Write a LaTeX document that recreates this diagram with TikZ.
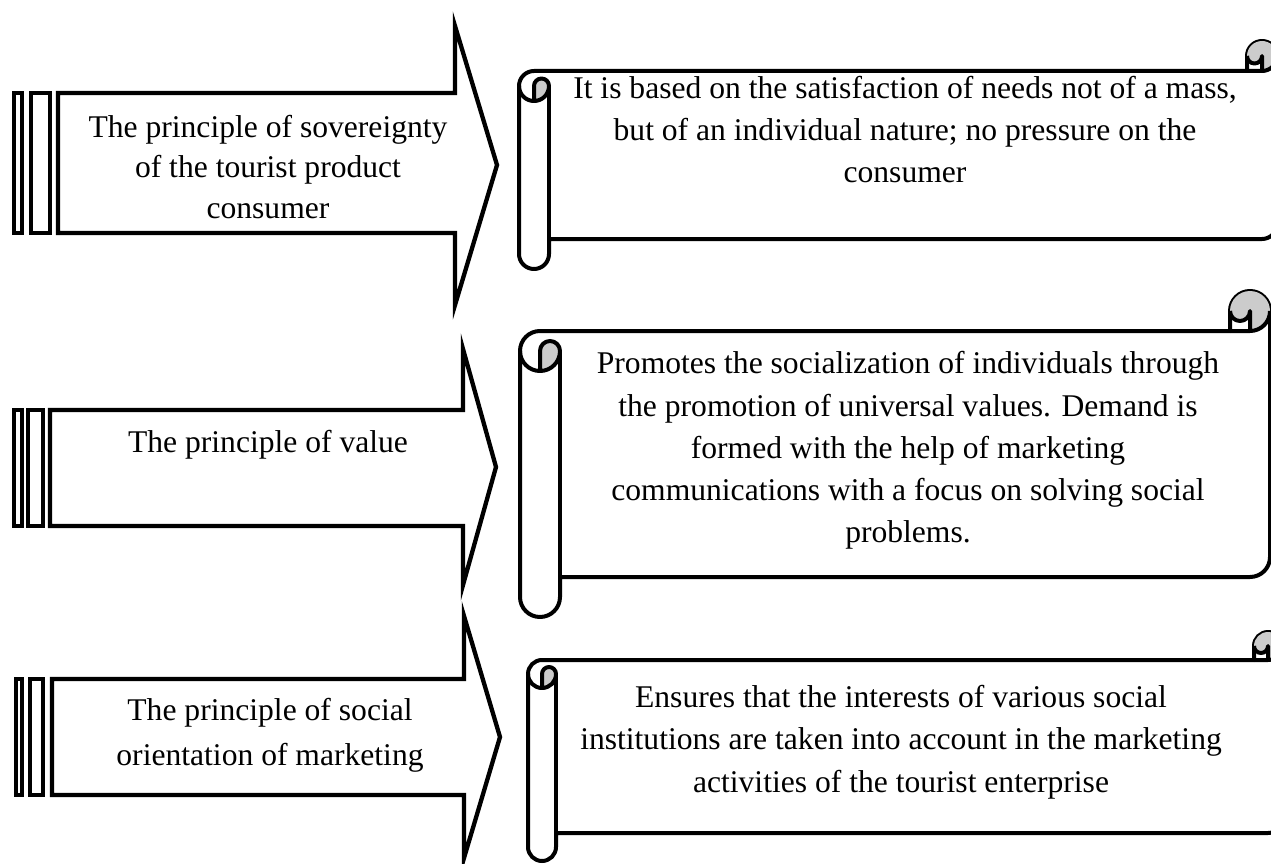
\documentclass[tikz,border=0pt]{standalone}
\usepackage{fontspec}
\setmainfont{Liberation Serif}

% Scroll banner: left edge, top, right edge, bottom, roll size
\newcommand\drawscroll[5]{%
  \pgfmathsetmacro\sL{#1}\pgfmathsetmacro\sR{#3}%
  \pgfmathsetmacro\sH{#5/2}\pgfmathsetmacro\sQ{#5/4}%
  \pgfmathsetmacro\yTop{#2+#5}%
  \pgfmathsetmacro\yMid{#2+#5/2}%
  \pgfmathsetmacro\yRl{#2+1.5*#5}%
  \pgfmathsetmacro\yRb{#2+2*#5}%
  \pgfmathsetmacro\yBot{#4-#5}%
  \pgfmathsetmacro\yBr{#4-#5/2}%
  \pgfmathsetmacro\yCr{#4-1.5*#5}%
  \pgfmathsetmacro\xIn{#1+#5}%
  \pgfmathsetmacro\xLc{#1+#5/2}%
  \pgfmathsetmacro\xRi{#3-#5}%
  \pgfmathsetmacro\xRc{#3-#5/2}%
  % sheet with both rolls
  \draw[scrollline,fill=white] (\sL,\yRl) arc[start angle=180,end angle=270,radius=\sH]
     -- (\xRi,\yTop) -- (\xRi,\yMid) arc[start angle=180,end angle=360,radius=\sH]
     -- (\sR,\yCr) arc[start angle=0,end angle=90,radius=\sH]
     -- (\xIn,\yBot) -- (\xIn,\yBr) arc[start angle=0,end angle=180,radius=\sH] -- cycle;
  % shaded insides of the rolls
  \fill[curlshade] (\xLc,\yRb) arc[start angle=90,end angle=0,radius=\sH]
     arc[start angle=0,end angle=-180,radius=\sQ] -- cycle;
  \fill[curlshade] (\xRc,\yTop) arc[start angle=90,end angle=-180,radius=\sH]
     arc[start angle=180,end angle=0,radius=\sQ] -- cycle;
  % curl strokes
  \draw[scrollline] (\xRi,\yTop) -- (\xRc,\yTop) arc[start angle=90,end angle=0,radius=\sH];
  \draw[scrollline] (\xRc,\yTop) -- (\xRc,\yMid) arc[start angle=0,end angle=180,radius=\sQ];
  \draw[scrollline] (\xLc,\yRb) -- (\xLc,\yRl) arc[start angle=180,end angle=360,radius=\sQ]
     arc[start angle=0,end angle=180,radius=\sH];
  \draw[scrollline] (\xIn,\yRl) -- (\xIn,\yBot);
}
\newcommand\txtsize[1]{\fontsize{31.6}{#1}\selectfont}

\begin{document}
\begin{tikzpicture}[x=1pt,y=-1pt,
  scrollline/.style={draw=black,line width=4pt,line join=round},
  curlshade/.style={fill=black!20},
  arrowline/.style={draw=black,line width=4.3pt,fill=white,line join=miter},
  txt/.style={inner sep=0pt,align=center,text=black},
]
\useasboundingbox (0,0) rectangle (1271,864);
\clip (0,0) rectangle (1271,864);
\fill[white] (0,0) rectangle (1271,864);

% striped block arrows
\draw[arrowline] (14,93) rectangle (22,233);
\draw[arrowline] (31,93) rectangle (50,233);
\draw[arrowline] (58,93) -- (455,93) -- (455,26) -- (497,165) -- (455,305) -- (455,233) -- (58,233) -- cycle;

\draw[arrowline] (14,410) rectangle (22,526);
\draw[arrowline] (28,410) rectangle (43,526);
\draw[arrowline] (50,410) -- (463,410) -- (463,349) -- (496,467) -- (463,585) -- (463,526) -- (50,526) -- cycle;

\draw[arrowline] (16,679) rectangle (22,795);
\draw[arrowline] (30,679) rectangle (43,795);
\draw[arrowline] (52,679) -- (464,679) -- (464,616) -- (500,737) -- (464,858) -- (464,795) -- (52,795) -- cycle;

% scroll banners
\drawscroll{519}{41}{1277}{269}{30}
\drawscroll{520}{291}{1270}{617}{40}
\drawscroll{528}{632}{1282}{861}{28}

% principles
\node[txt,font=\txtsize{40.5}] (p1) at (268,169.4)
  {\strut The principle of sovereignty\\\strut of the tourist product\\\strut consumer};
\node[txt,font=\txtsize{40.5}] (p2) at (268,444.6)
  {\strut The principle of value};
\node[txt,font=\txtsize{45}] (p3) at (270,733.5)
  {\strut The principle of social\\\strut orientation of marketing};

% descriptions
\node[txt,font=\txtsize{42}] (d1) at (905,131.6)
  {\strut It is based on the satisfaction of needs not of a mass,\\\strut but of an individual nature; no pressure on the\\\strut consumer};
\node[txt,font=\txtsize{42.25}] (d2) at (908,450)
  {\strut Promotes the socialization of individuals through\\\strut the promotion of universal values. Demand is\\\strut formed with the help of marketing\\\strut communications with a focus on solving social\\\strut problems.};
\node[txt,font=\txtsize{42.5}] (d3) at (901,741)
  {\strut Ensures that the interests of various social\\\strut institutions are taken into account in the marketing\\\strut activities of the tourist enterprise};
\end{tikzpicture}
\end{document}
